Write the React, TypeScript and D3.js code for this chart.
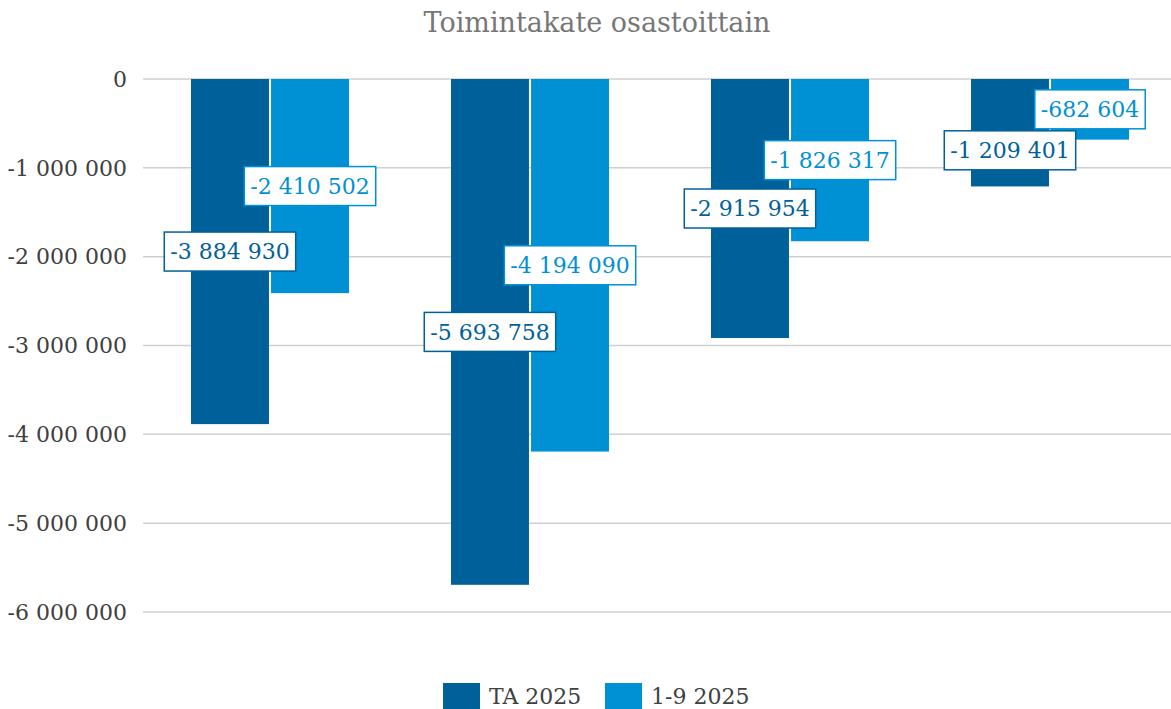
import React, { useEffect, useRef } from "react";
import * as d3 from "d3";

const title = "Toimintakate osastoittain";
const categories = ["Osasto 1", "Osasto 2", "Osasto 3", "Osasto 4"];
const seriesNames = ["TA 2025", "1-9 2025"];
const ta2025 = [-3884930, -5693758, -2915954, -1209401];
const ytd2025 = [-2410502, -4194090, -1826317, -682604];
const yTicks = [0, -1000000, -2000000, -3000000, -4000000, -5000000, -6000000];
const colors = ["#00619a", "#0091d5"];

const W = 1171;
const H = 709;
const FONT = "'DejaVu Serif', serif";

const locale = d3.formatLocale({
  decimal: ",",
  thousands: " ",
  grouping: [3],
  currency: ["", " €"],
  minus: "-",
});
const fmt = locale.format(",d");

export default function App() {
  const ref = useRef<SVGSVGElement>(null);

  useEffect(() => {
    const svg = d3.select(ref.current);
    svg.selectAll("*").remove();

    const y = d3.scaleLinear().domain([-6000000, 0]).range([612, 79]);
    const x0 = d3.scaleBand<string>().domain(categories).range([140, 1180]).padding(0);
    const x1 = d3
      .scaleBand<string>()
      .domain(seriesNames)
      .range([51, 209])
      .paddingInner(0.026)
      .paddingOuter(0);

    // title
    svg
      .append("text")
      .attr("x", 597)
      .attr("y", 32)
      .attr("text-anchor", "middle")
      .attr("font-family", FONT)
      .attr("font-size", 27)
      .attr("fill", "#777777")
      .text(title);

    // gridlines & tick labels
    const g = svg.append("g");
    yTicks.forEach((t) => {
      g.append("line")
        .attr("x1", 143)
        .attr("x2", W)
        .attr("y1", y(t))
        .attr("y2", y(t))
        .attr("stroke", "#d0d0d0")
        .attr("stroke-width", 1.5);
      g.append("text")
        .attr("x", 127)
        .attr("y", y(t))
        .attr("dy", "0.35em")
        .attr("text-anchor", "end")
        .attr("font-family", FONT)
        .attr("font-size", 22)
        .attr("fill", "#404040")
        .text(fmt(t));
    });

    const data = [ta2025, ytd2025];

    // bars
    data.forEach((vals, si) => {
      vals.forEach((v, ci) => {
        const bx = x0(categories[ci])! + x1(seriesNames[si])!;
        svg
          .append("rect")
          .attr("x", bx)
          .attr("width", x1.bandwidth())
          .attr("y", y(0))
          .attr("height", y(v) - y(0))
          .attr("fill", colors[si]);
      });
    });

    // labels
    const boxH = 39;
    categories.forEach((c, ci) => {
      const boxes: { cx: number; cy: number; si: number; v: number }[] = [];
      data.forEach((vals, si) => {
        const v = vals[ci];
        const cx = x0(c)! + x1(seriesNames[si])! + x1.bandwidth() / 2;
        const cy = (y(0) + y(v)) / 2;
        boxes.push({ cx, cy, si, v });
      });
      // resolve overlap: push the first series' label below the second's
      const a = boxes[0];
      const b = boxes[1];
      if (Math.abs(a.cy - b.cy) < boxH) {
        a.cy = b.cy + boxH + 2;
      }
      boxes.forEach((bx) => {
        const lg = svg.append("g");
        const rect = lg.append("rect");
        const txt = lg
          .append("text")
          .attr("x", bx.cx)
          .attr("y", bx.cy)
          .attr("dy", "0.35em")
          .attr("text-anchor", "middle")
          .attr("font-family", FONT)
          .attr("font-size", 22)
          .attr("fill", colors[bx.si])
          .text(fmt(bx.v));
        const tw = (txt.node() as SVGTextElement).getComputedTextLength();
        const w = tw + 12;
        rect
          .attr("x", bx.cx - w / 2)
          .attr("y", bx.cy - boxH / 2)
          .attr("width", w)
          .attr("height", boxH)
          .attr("fill", "#ffffff")
          .attr("stroke", colors[bx.si])
          .attr("stroke-width", 1.5);
      });
    });

    // legend
    const legendX = [443, 605];
    seriesNames.forEach((s, i) => {
      svg
        .append("rect")
        .attr("x", legendX[i])
        .attr("y", 683)
        .attr("width", 37)
        .attr("height", 30)
        .attr("fill", colors[i]);
      svg
        .append("text")
        .attr("x", legendX[i] + 46)
        .attr("y", 704)
        .attr("font-family", FONT)
        .attr("font-size", 22)
        .attr("fill", "#404040")
        .text(s);
    });
  }, []);

  return (
    <svg
      ref={ref}
      width={W}
      height={H}
      style={{ position: "absolute", left: 0, top: 0, background: "#fff" }}
    />
  );
}
